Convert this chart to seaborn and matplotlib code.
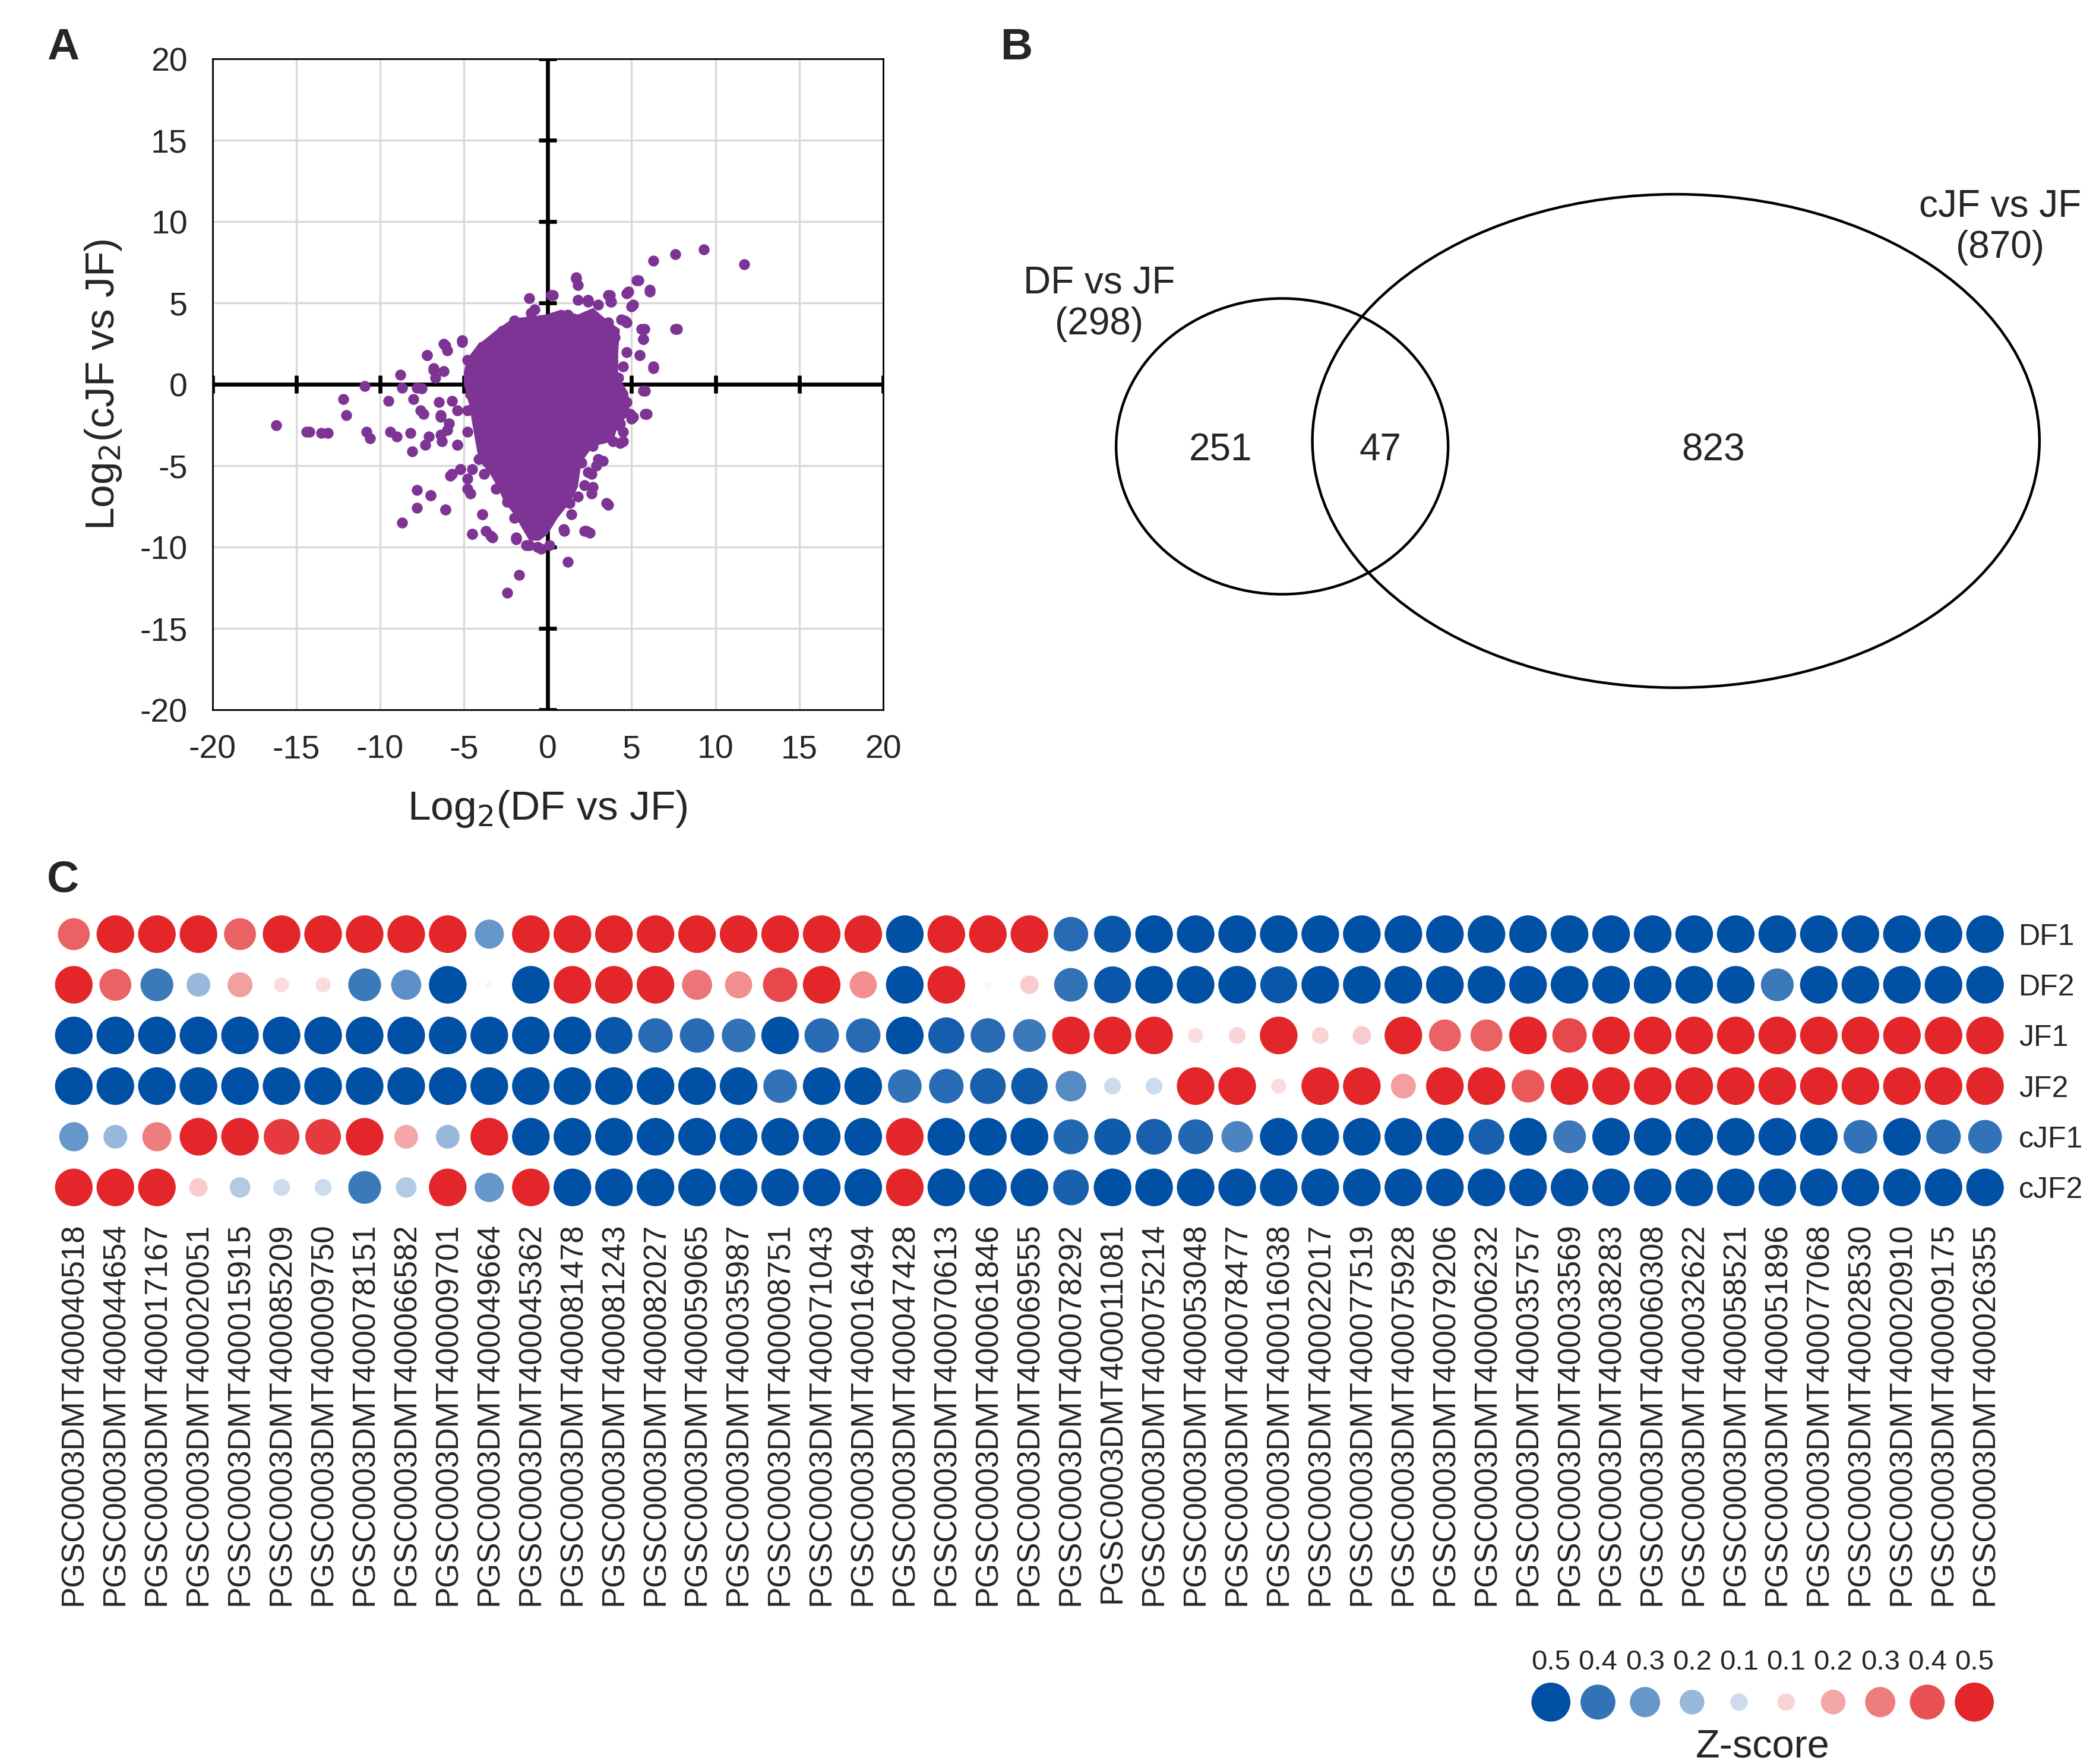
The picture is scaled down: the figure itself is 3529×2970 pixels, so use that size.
import numpy as np
import pandas as pd
import seaborn as sns
import matplotlib.pyplot as plt
from matplotlib.colors import LinearSegmentedColormap
from matplotlib.patches import Ellipse

# ---------------- panel A: log2 fold changes ----------------
# single points that stand out around the dense cloud
scatter_x = [11.7, 9.3, 7.6, 6.3, 5.3, 6.1, 4.7, 5.0, 7.6, 6.3, 5.7, 5.5, 5.7, 5.8, 5.0,
             4.3, 3.6, 2.6, 2.2, 1.2, 1.0, -1.7, -2.4, -3.4, -4.5, -3.9, -4.8, -6.1, -7.0,
             -7.8, -7.8, -8.7, -5.7, -5.2, -8.1, -7.3, -6.4, -5.4, -9.0, -9.4, -10.6, -10.8,
             -13.1, -13.5, -14.2, -14.4, -16.2, -12.0, -12.2, -10.9, -9.5, -8.8, -8.7, -8.0,
             -7.6, -7.8, -7.2, -6.8, -6.7, -6.1, -6.0, -5.1, -6.4, -5.9, -5.4, -8.2, -1.1,
             0.3, 1.7, 1.8, 2.4, 3.6, 3.8, 4.4, 4.7, 5.6, 4.0, 4.5, 4.2, 4.7, 4.0, 4.5, 3.3,
             2.9, 2.6, 2.2, 1.8, 1.4, 0.1, -0.6, -1.3, -1.9, -2.0, -2.4, -3.1, -3.8, -4.5,
             -4.1, -4.8, -4.8, -4.6, -4.5, -4.1, -3.4, -2.7, -2.0, -1.0, 1.2, 2.6, 3.6,
             -7.2, -6.2, -5.1, -6.8, -6.2, -7.5, -7.4, -6.5, -5.7, -6.4, -6.0, -7.1, -6.3,
             -5.4, -5.8, -5.2, -4.8, -4.6, -7.0, -6.1, -3.9, -4.5, -3.7, -3.3, -1.9, 0.95,
             2.3, 2.5, 3.5, 2.7, 2.4, 3.0, 4.5, 4.3, 5.1, 5.9, 5.8, 6.3, 5.5, 4.7, 5.7, 5.75,
             7.7, 4.6, 5.1, 5.4, 6.1, 4.8, 3.7, 3.75, 3.0, 2.4, 1.8, 1.7, 0.2, -0.8, -2.0,
             -2.7, -3.9, -4.8, -0.4, -1.1, 1.3, 2.0, 2.7, 3.9, 4.2, 4.9]
scatter_y = [7.4, 8.3, 8.0, 7.6, 6.4, 5.7, 5.6, 4.8, 3.4, 1.0, 2.8, 1.8, -0.4, -1.8, -2.1,
             -3.6, -7.4, -6.7, -9.0, -10.9, -9.0, -11.7, -12.8, -9.3, -9.2, -8.0, -6.4, -7.7,
             -6.8, -6.5, -7.6, -8.5, -5.5, -5.2, -4.1, -3.7, -3.1, -3.7, -3.2, -2.9, -3.3,
             -2.9, -3.0, -3.0, -2.9, -2.9, -2.5, -1.9, -0.9, -0.1, -1.0, 0.6, -0.2, -0.9,
             -1.6, -0.2, 1.8, 0.9, 0.4, 2.4, 2.1, 2.6, -1.9, -2.4, -1.6, -3.0, 5.3,
             5.5, 6.6, 6.1, 5.1, 5.5, 5.1, 4.0, 3.8, 3.4, 2.9, 1.1, 0.4, -1.1, -2.2, -2.9, -4.7,
             -5.0, -5.5, -6.2, -6.9, -8.0, -9.9, -10.0, -9.9, -9.5, -8.2, -7.2, -6.4, -5.5, -5.2,
             -4.6, -2.9, -1.6, -0.6, 0.4, 1.4, 2.4, 3.3, 3.9, 4.4, 4.3, 4.1, 3.8,
             1.8, 2.5, 2.7, 1.0, 0.8, -0.25, -1.8, -1.1, -1.0, -2.0, -2.8, -3.2, -3.5,
             -3.7, -5.6, -5.2, -5.8, -6.7, -6.8, -7.7, -8.0, -9.2, -9.0, -9.4, -9.4, -8.9,
             -9.0, -9.1, -7.3, -6.3, -5.4, -4.6, -3.5, -2.4, -2.0, -1.8, -0.4, 1.1, 1.8, 2.0, 2.8, 3.4,
             3.4, 3.9, 4.9, 6.4, 5.8, 5.7, 5.5, 5.1, 4.9, 5.2, 5.2, 6.5, 5.5, 4.6, 3.9,
             3.2, 2.3, 1.5, -10.1, -9.9, -7.3, -4.8, -3.8, -3.5, -2.5, -1.8]
# outline of the solid, fully overplotted core of the cloud
core_x = [-0.1, 0.8, 1.8, 2.7, 3.6, 4.3, 4.2, 4.2, 4.8, 4.9, 4.2, 3.9, 2.7, 2.0, 1.8, 1.3,
          0.6, 0.0, -0.5, -1.1, -1.5, -2.0, -2.6, -3.0, -3.5, -4.1, -4.3, -4.5, -4.7, -5.0,
          -5.0, -4.8, -4.2, -3.0, -2.1]
core_y = [4.3, 4.6, 4.3, 4.7, 3.9, 3.4, 1.9, 0.5, -0.5, -1.8, -2.5, -3.5, -3.8, -4.8, -6.3,
          -7.3, -8.2, -9.2, -9.6, -9.6, -8.9, -8.0, -7.2, -6.3, -5.4, -4.7, -3.6, -2.4, -1.2,
          0.0, 0.8, 1.6, 2.4, 3.4, 4.05]
axis_ticks = [-20, -15, -10, -5, 0, 5, 10, 15, 20]

# ---------------- panel B: Venn counts ----------------
only_df, both, only_cjf = 251, 47, 823
set_labels = ["DF vs JF\n(298)", "cJF vs JF\n(870)"]

# ---------------- panel C: Z-scores ----------------
genes = ["PGSC0003DMT400040518", "PGSC0003DMT400044654", "PGSC0003DMT400017167",
         "PGSC0003DMT400020051", "PGSC0003DMT400015915", "PGSC0003DMT400085209",
         "PGSC0003DMT400009750", "PGSC0003DMT400078151", "PGSC0003DMT400066582",
         "PGSC0003DMT400009701", "PGSC0003DMT400049664", "PGSC0003DMT400045362",
         "PGSC0003DMT400081478", "PGSC0003DMT400081243", "PGSC0003DMT400082027",
         "PGSC0003DMT400059065", "PGSC0003DMT400035987", "PGSC0003DMT400008751",
         "PGSC0003DMT400071043", "PGSC0003DMT400016494", "PGSC0003DMT400047428",
         "PGSC0003DMT400070613", "PGSC0003DMT400061846", "PGSC0003DMT400069555",
         "PGSC0003DMT400078292", "PGSC0003DMT400011081", "PGSC0003DMT400075214",
         "PGSC0003DMT400053048", "PGSC0003DMT400078477", "PGSC0003DMT400016038",
         "PGSC0003DMT400022017", "PGSC0003DMT400077519", "PGSC0003DMT400075928",
         "PGSC0003DMT400079206", "PGSC0003DMT400006232", "PGSC0003DMT400035757",
         "PGSC0003DMT400033569", "PGSC0003DMT400038283", "PGSC0003DMT400060308",
         "PGSC0003DMT400032622", "PGSC0003DMT400058521", "PGSC0003DMT400051896",
         "PGSC0003DMT400077068", "PGSC0003DMT400028530", "PGSC0003DMT400020910",
         "PGSC0003DMT400009175", "PGSC0003DMT400026355"]
samples = ["DF1", "DF2", "JF1", "JF2", "cJF1", "cJF2"]

z_DF1 = [0.36, 0.5, 0.5, 0.5, 0.36, 0.5, 0.5, 0.5, 0.5, 0.5,
         -0.3, 0.5, 0.5, 0.5, 0.5, 0.5, 0.5, 0.5, 0.5, 0.5,
         -0.5, 0.5, 0.5, 0.5, -0.42, -0.48, -0.5, -0.5, -0.5, -0.5,
         -0.5, -0.5, -0.5, -0.5, -0.5, -0.5, -0.5, -0.5, -0.5, -0.5,
         -0.5, -0.5, -0.5, -0.5, -0.5, -0.5, -0.5]
z_DF2 = [0.5, 0.36, -0.38, -0.2, 0.22, 0.08, 0.08, -0.38, -0.32, -0.5,
         -0.02, -0.5, 0.5, 0.5, 0.5, 0.32, 0.26, 0.42, 0.5, 0.26,
         -0.5, 0.5, 0.02, 0.12, -0.4, -0.48, -0.5, -0.5, -0.5, -0.48,
         -0.5, -0.5, -0.5, -0.5, -0.5, -0.5, -0.5, -0.5, -0.5, -0.5,
         -0.5, -0.38, -0.5, -0.5, -0.5, -0.5, -0.5]
z_JF1 = [-0.5, -0.5, -0.5, -0.5, -0.5, -0.5, -0.5, -0.5, -0.5, -0.5,
         -0.5, -0.5, -0.5, -0.48, -0.42, -0.42, -0.4, -0.5, -0.42, -0.42,
         -0.5, -0.46, -0.42, -0.38, 0.5, 0.5, 0.5, 0.08, 0.1, 0.5,
         0.1, 0.12, 0.5, 0.36, 0.36, 0.5, 0.42, 0.5, 0.5, 0.5,
         0.5, 0.5, 0.5, 0.5, 0.5, 0.5, 0.5]
z_JF2 = [-0.5, -0.5, -0.5, -0.5, -0.5, -0.5, -0.5, -0.5, -0.5, -0.5,
         -0.5, -0.5, -0.5, -0.5, -0.5, -0.5, -0.5, -0.4, -0.5, -0.5,
         -0.4, -0.42, -0.45, -0.47, -0.33, -0.1, -0.1, 0.5, 0.5, 0.08,
         0.5, 0.5, 0.22, 0.5, 0.5, 0.38, 0.5, 0.5, 0.5, 0.5,
         0.5, 0.5, 0.5, 0.5, 0.5, 0.5, 0.5]
z_cJF1 = [-0.3, -0.2, 0.3, 0.5, 0.5, 0.45, 0.45, 0.5, 0.2, -0.2,
          0.5, -0.5, -0.5, -0.5, -0.5, -0.5, -0.5, -0.5, -0.5, -0.5,
          0.5, -0.5, -0.5, -0.5, -0.43, -0.47, -0.45, -0.43, -0.35, -0.5,
          -0.5, -0.5, -0.5, -0.5, -0.45, -0.5, -0.38, -0.5, -0.5, -0.5,
          -0.5, -0.5, -0.5, -0.4, -0.5, -0.42, -0.4]
z_cJF2 = [0.5, 0.5, 0.5, 0.12, -0.15, -0.1, -0.1, -0.38, -0.15, 0.5,
          -0.3, 0.5, -0.5, -0.5, -0.5, -0.5, -0.5, -0.5, -0.5, -0.5,
          0.5, -0.5, -0.5, -0.5, -0.45, -0.5, -0.5, -0.5, -0.5, -0.5,
          -0.5, -0.5, -0.5, -0.5, -0.5, -0.5, -0.5, -0.5, -0.5, -0.5,
          -0.5, -0.5, -0.5, -0.5, -0.5, -0.5, -0.5]

legend_z = [-0.5, -0.4, -0.3, -0.2, -0.1, 0.1, 0.2, 0.3, 0.4, 0.5]
legend_labels = ["0.5", "0.4", "0.3", "0.2", "0.1", "0.1", "0.2", "0.3", "0.4", "0.5"]

PURPLE = "#7D3494"
zcmap = LinearSegmentedColormap.from_list("zscore", ["#0050A6", "#FFFFFF", "#E3262A"])

sns.set_theme(style="white")
plt.rcParams["font.family"] = ["Liberation Sans", "DejaVu Sans"]
plt.rcParams["axes.unicode_minus"] = False

fig = plt.figure(figsize=(17.65, 14.85), dpi=200)

# ---- A ----
axA = fig.add_axes([0.1013, 0.5976, 0.3199, 0.3689])
axA.set_xlim(-20, 20)
axA.set_ylim(-20, 20)
axA.set_xticks(axis_ticks)
axA.set_yticks(axis_ticks)
axA.grid(True, color="#D9D9D9", lw=1.2)
axA.set_axisbelow(True)
axA.axhline(0, color="black", lw=2.4, zorder=2)
axA.axvline(0, color="black", lw=2.4, zorder=2)
axA.plot(axis_ticks, np.zeros(len(axis_ticks)), ls="none", marker="|", ms=11,
         mew=2.4, color="black", zorder=2)
axA.plot(np.zeros(len(axis_ticks)), axis_ticks, ls="none", marker="_", ms=11,
         mew=2.4, color="black", zorder=2)
axA.fill(core_x, core_y, color=PURPLE, lw=0, zorder=3)
sns.scatterplot(x=scatter_x, y=scatter_y, ax=axA, color=PURPLE, s=44,
                linewidth=0, zorder=4)
for sp in axA.spines.values():
    sp.set_color("black")
    sp.set_linewidth(1.0)
axA.tick_params(length=0, pad=15, labelsize=20)
axA.set_xlabel("Log$_2$(DF vs JF)", fontsize=25, labelpad=14)
axA.set_ylabel("Log$_2$(cJF vs JF)", fontsize=25, labelpad=10)

# ---- B ----
axB = fig.add_axes([0.4487, 0.5732, 0.5513, 0.4268])
axB.set_xlim(700, 1560)
axB.set_ylim(560, 0)
axB.axis("off")
axB.add_patch(Ellipse((954, 332), 247, 220, fill=False, ec="black", lw=1.6))
axB.add_patch(Ellipse((1247, 328), 541, 367, fill=False, ec="black", lw=1.6))
axB.text(818, 226, set_labels[0], ha="center", va="center", fontsize=23, linespacing=1.2)
axB.text(1488, 169, set_labels[1], ha="center", va="center", fontsize=23, linespacing=1.2)
axB.text(908, 335, str(only_df), ha="center", va="center", fontsize=23)
axB.text(1027, 335, str(both), ha="center", va="center", fontsize=23)
axB.text(1275, 335, str(only_cjf), ha="center", va="center", fontsize=23)

# ---- C ----
rows = {"DF1": z_DF1, "DF2": z_DF2, "JF1": z_JF1, "JF2": z_JF2,
        "cJF1": z_cJF1, "cJF2": z_cJF2}
recs = []
for s in samples:
    for g, z in zip(genes, rows[s]):
        recs.append({"gene": g, "sample": s, "z": z, "absz": abs(z)})
dfc = pd.DataFrame(recs)

axC = fig.add_axes([0.0253, 0.3125, 0.9314, 0.1723])
sns.scatterplot(data=dfc, x="gene", y="sample", hue="z", size="absz",
                palette=zcmap, hue_norm=(-0.5, 0.5), sizes=(0, 520),
                size_norm=(0, 0.5), linewidth=0, legend=False, ax=axC)
axC.set_xlim(-0.5, len(genes) - 0.5)
axC.set_ylim(len(samples) - 0.5, -0.5)
axC.set_xlabel("")
axC.set_ylabel("")
axC.yaxis.tick_right()
axC.tick_params(axis="x", rotation=90, labelsize=19, pad=6, length=0)
axC.tick_params(axis="y", labelsize=18, pad=8, length=0)
for sp in axC.spines.values():
    sp.set_visible(False)

# legend
dfl = pd.DataFrame({"slot": np.arange(len(legend_z)), "row": np.zeros(len(legend_z)),
                    "z": legend_z, "absz": np.abs(legend_z)})
axL = fig.add_axes([0.7285, 0.0229, 0.2244, 0.0244])
sns.scatterplot(data=dfl, x="slot", y="row", hue="z", size="absz",
                palette=zcmap, hue_norm=(-0.5, 0.5), sizes=(0, 560),
                size_norm=(0, 0.5), linewidth=0, legend=False, ax=axL)
axL.set_xlim(-0.5, len(legend_z) - 0.5)
axL.set_ylim(-0.5, 0.5)
axL.set_yticks([])
axL.set_ylabel("")
axL.xaxis.tick_top()
axL.set_xticks(dfl["slot"])
axL.set_xticklabels(legend_labels)
axL.tick_params(axis="x", labelsize=17, pad=3, length=0)
axL.xaxis.set_label_position("bottom")
axL.set_xlabel("Z-score", fontsize=24, labelpad=3)
for sp in axL.spines.values():
    sp.set_visible(False)

# panel letters
fig.text(0.030, 0.973, "A", fontsize=27, fontweight="bold", ha="center", va="center")
fig.text(0.485, 0.973, "B", fontsize=27, fontweight="bold", ha="center", va="center")
fig.text(0.030, 0.501, "C", fontsize=27, fontweight="bold", ha="center", va="center")

fig.savefig("out.png", dpi=200)
